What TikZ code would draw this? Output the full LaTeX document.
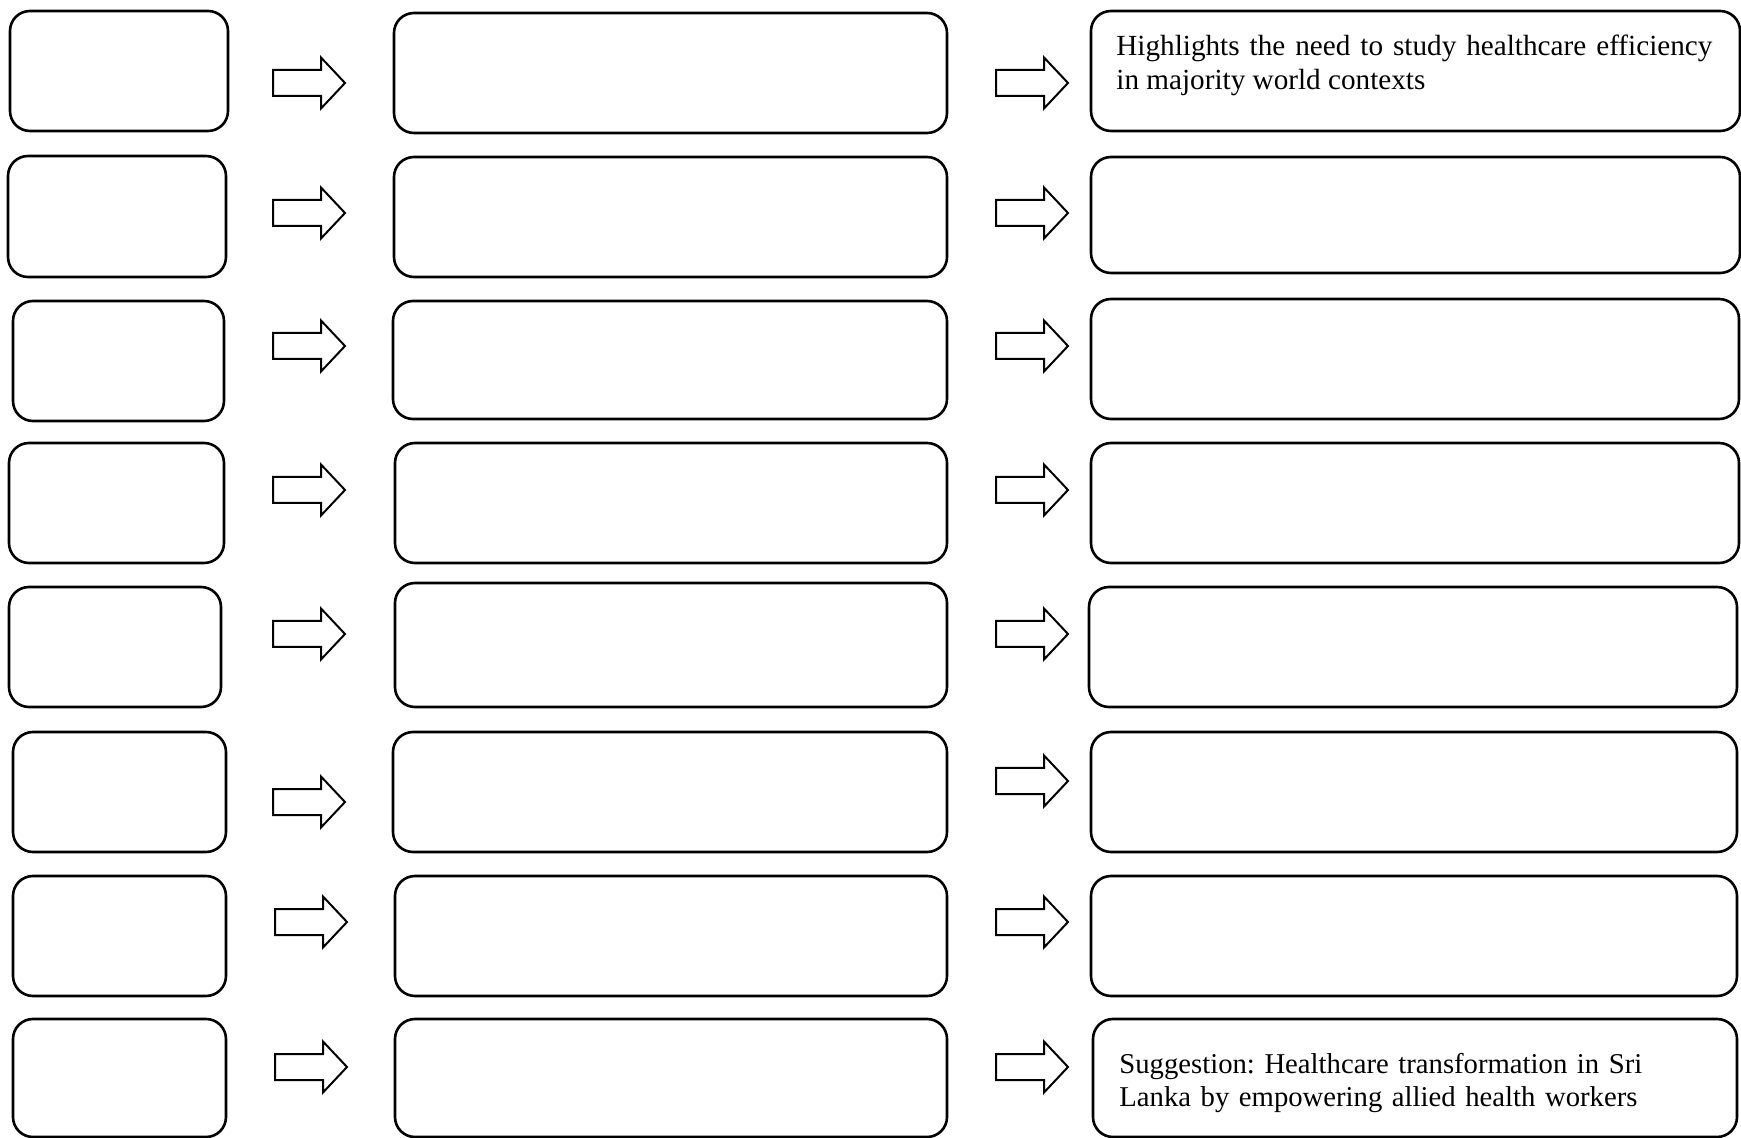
\documentclass[tikz,border=0pt]{standalone}
\usepackage{fontspec}
\setmainfont{Liberation Serif}
\usetikzlibrary{fit}
\frenchspacing
\begin{document}
\begin{tikzpicture}[x=0.5pt,y=-0.5pt,
  panel/.style={draw=black, line width=1.3pt, rounded corners=10pt, inner sep=0pt},
  blockarrow/.style={draw=black, line width=1pt, line join=miter, fill=white},
  caption/.style={anchor=base west, inner sep=0pt, text width=298pt,
    font=\fontsize{14.6pt}{16.8pt}\selectfont},
  blockarr/.pic={\draw[blockarrow] (-72,-13) -- (-24,-13) -- (-24,-25.5) -- (0,0)
      -- (-24,25.5) -- (-24,13) -- (-72,13) -- cycle;}]
\useasboundingbox (0,0) rectangle (1741,1138);
\fill[white] (0,0) rectangle (1741,1138);

% left column
\foreach \i/\xa/\ya/\xb/\yb in {1/10/11/228/131, 2/8/156/226/277, 3/13/301/224/421,
    4/9/443/224/563, 5/9/587/221/707, 6/13/732/226/852, 7/13/876/226/996, 8/13/1019/226/1137}
  \node[panel, fit={(\xa,\ya) (\xb,\yb)}] (L\i) {};

% middle column
\foreach \i/\xa/\ya/\xb/\yb in {1/394/13/947/133, 2/394/157/947/277, 3/393/301/947/419,
    4/395/443/947/563, 5/395/583/947/707, 6/393/732/947/852, 7/395/876/947/996, 8/395/1019/947/1137}
  \node[panel, fit={(\xa,\ya) (\xb,\yb)}] (M\i) {};

% right column
\foreach \i/\xa/\ya/\xb/\yb in {1/1091/11/1740/131, 2/1091/157/1740/273, 3/1091/299/1739/419,
    4/1091/443/1739/563, 5/1089/587/1737/707, 6/1091/732/1737/852, 7/1091/876/1737/996, 8/1093/1019/1737/1137}
  \node[panel, fit={(\xa,\ya) (\xb,\yb)}] (R\i) {};

% block arrows between the columns
\foreach \tx/\ty in {345/83, 345/213, 345/346, 345/490, 345/634, 345/802, 347/922, 347/1067}
  \pic at (\tx,\ty) {blockarr};
\foreach \tx/\ty in {1068/83, 1068/213, 1068/346, 1068/490, 1068/634, 1068/781, 1068/922, 1068/1067}
  \pic at (\tx,\ty) {blockarr};

% texts
\node[caption, align=justify] (t1) at (1116,56)
  {Highlights the need to study healthcare efficiency\linebreak in majority world contexts};
\node[caption, align=left, font=\fontsize{14.35pt}{16.6pt}\selectfont] (t8) at (1119,1073)
  {Suggestion: Healthcare transformation in Sri\\ Lanka by empowering allied health workers};
\end{tikzpicture}
\end{document}
